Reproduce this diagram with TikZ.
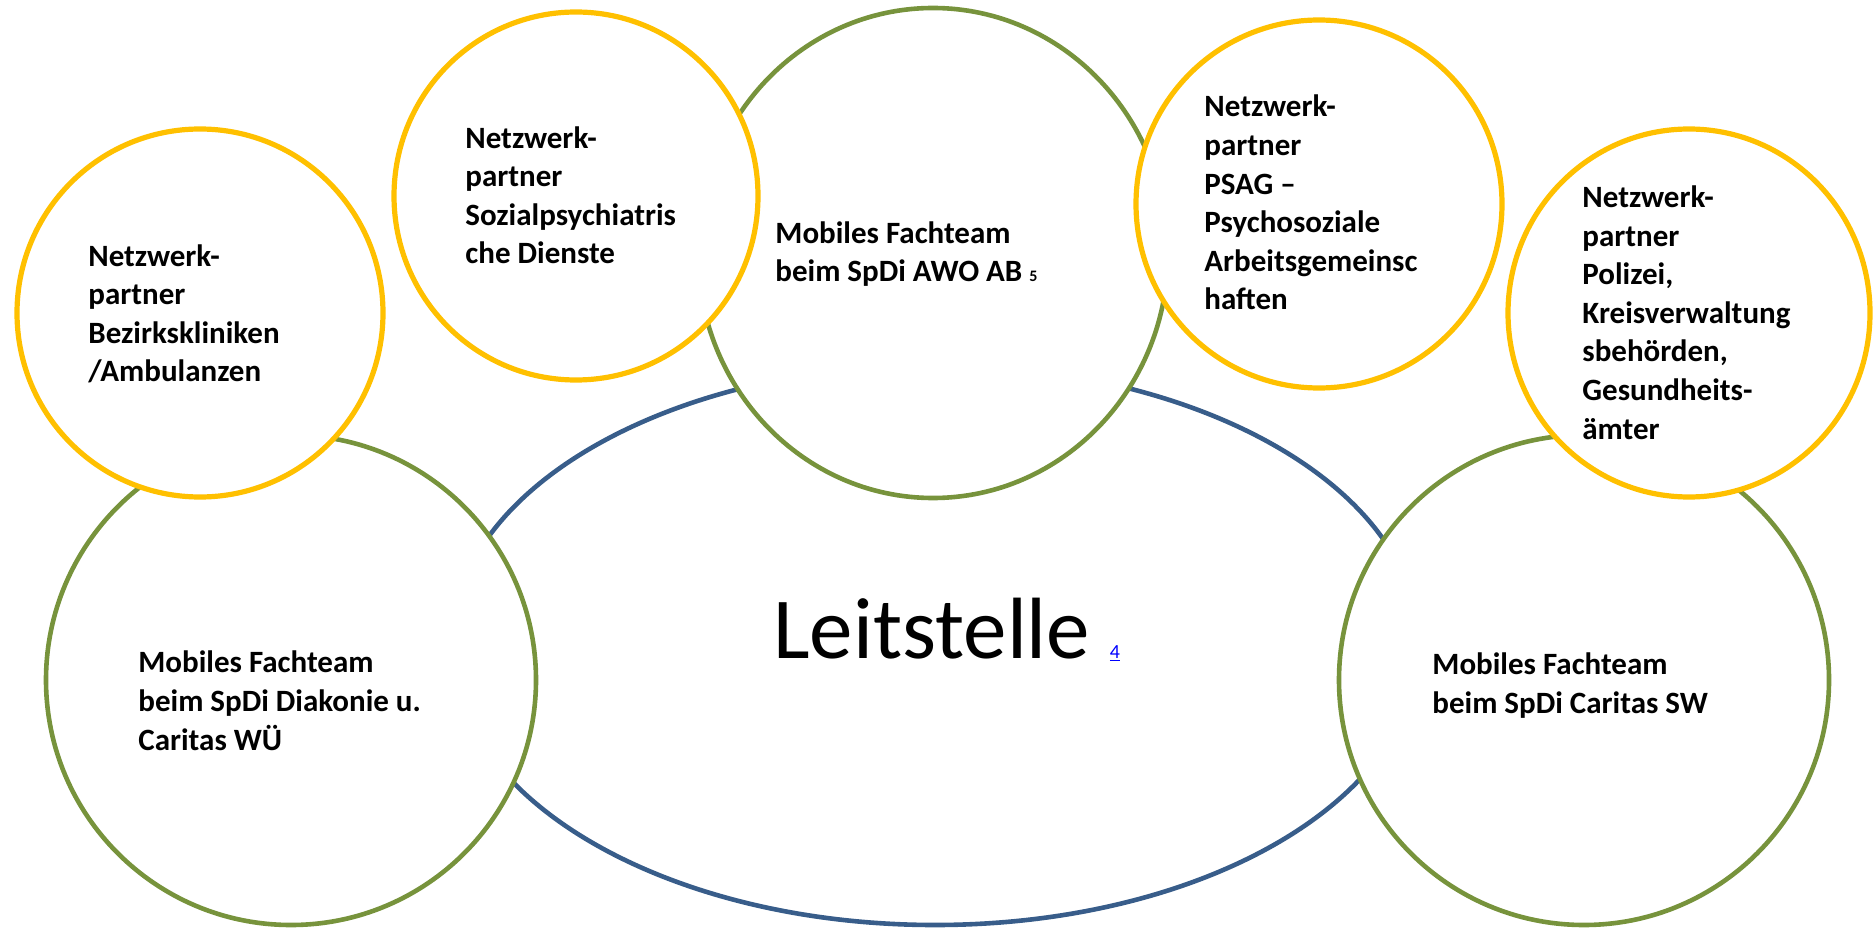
\documentclass[tikz,border=0pt]{standalone}
\usepackage{fontspec}
\setmainfont{Carlito}
\usepackage{xcolor}
\usetikzlibrary{shapes.geometric}
\definecolor{netzgelb}{HTML}{FFC000}
\definecolor{teamgruen}{HTML}{77933C}
\definecolor{leitblau}{HTML}{385D8A}
\begin{document}
\begin{tikzpicture}[x=0.5pt,y=-0.5pt,
  kreis/.style={ellipse, draw, fill=white, inner sep=0pt},
  leitkreis/.style={kreis, draw=leitblau, line width=2.3pt},
  teamkreis/.style={kreis, draw=teamgruen, line width=2.3pt},
  netzkreis/.style={kreis, draw=netzgelb, line width=2.6pt},
  beschriftung/.style={anchor=base west, align=left, inner sep=0pt, font=\fontsize{15.5}{19.3}\selectfont\bfseries}]
\useasboundingbox (0,0) rectangle (1873,930);
% Leitstelle in der Mitte
\node[leitkreis, minimum width=484pt, minimum height=280pt] (leit) at (935,645) {};
% mobile Fachteams
\node[teamkreis, minimum width=235pt, minimum height=245pt] (awo) at (933,253) {};
\node[teamkreis, minimum width=245pt, minimum height=245pt] (wue) at (291,680) {};
\node[teamkreis, minimum width=245pt, minimum height=245pt] (sw) at (1584,680) {};
% Netzwerkpartner
\node[netzkreis, minimum width=183pt, minimum height=184pt] (bezirk) at (200,313) {};
\node[netzkreis, minimum width=182pt, minimum height=184pt] (sozial) at (576,196) {};
\node[netzkreis, minimum width=183pt, minimum height=184pt] (psag) at (1319,204) {};
\node[netzkreis, minimum width=181pt, minimum height=184pt] (polizei) at (1689,313) {};
% Texte (base = letzte Zeile)
\node[anchor=base west, inner sep=0pt, font=\fontsize{43.5}{52}\selectfont] (leittext) at (773,658)
  {Leitstelle {\fontsize{10}{12}\selectfont\color{blue}\underline{4}}};
\node[beschriftung] (awotext) at (775,282) {Mobiles Fachteam\\beim SpDi AWO AB {\fontsize{8}{10}\selectfont 5}};
\node[beschriftung] (wuetext) at (138,750) {Mobiles Fachteam\\beim SpDi Diakonie u.\\Caritas WÜ};
\node[beschriftung] (swtext) at (1432,713) {Mobiles Fachteam\\beim SpDi Caritas SW};
\node[beschriftung] (bezirktext) at (88,382) {Netzwerk-\\partner\\Bezirkskliniken\\/Ambulanzen};
\node[beschriftung] (sozialtext) at (465,264) {Netzwerk-\\partner\\Sozialpsychiatris\\che Dienste};
\node[beschriftung] (psagtext) at (1204,310) {Netzwerk-\\partner\\PSAG --\\Psychosoziale\\Arbeitsgemeinsc\\haften};
\node[beschriftung] (polizeitext) at (1582,439) {Netzwerk-\\partner\\Polizei,\\Kreisverwaltung\\sbehörden,\\Gesundheits-\\ämter};
\end{tikzpicture}
\end{document}
